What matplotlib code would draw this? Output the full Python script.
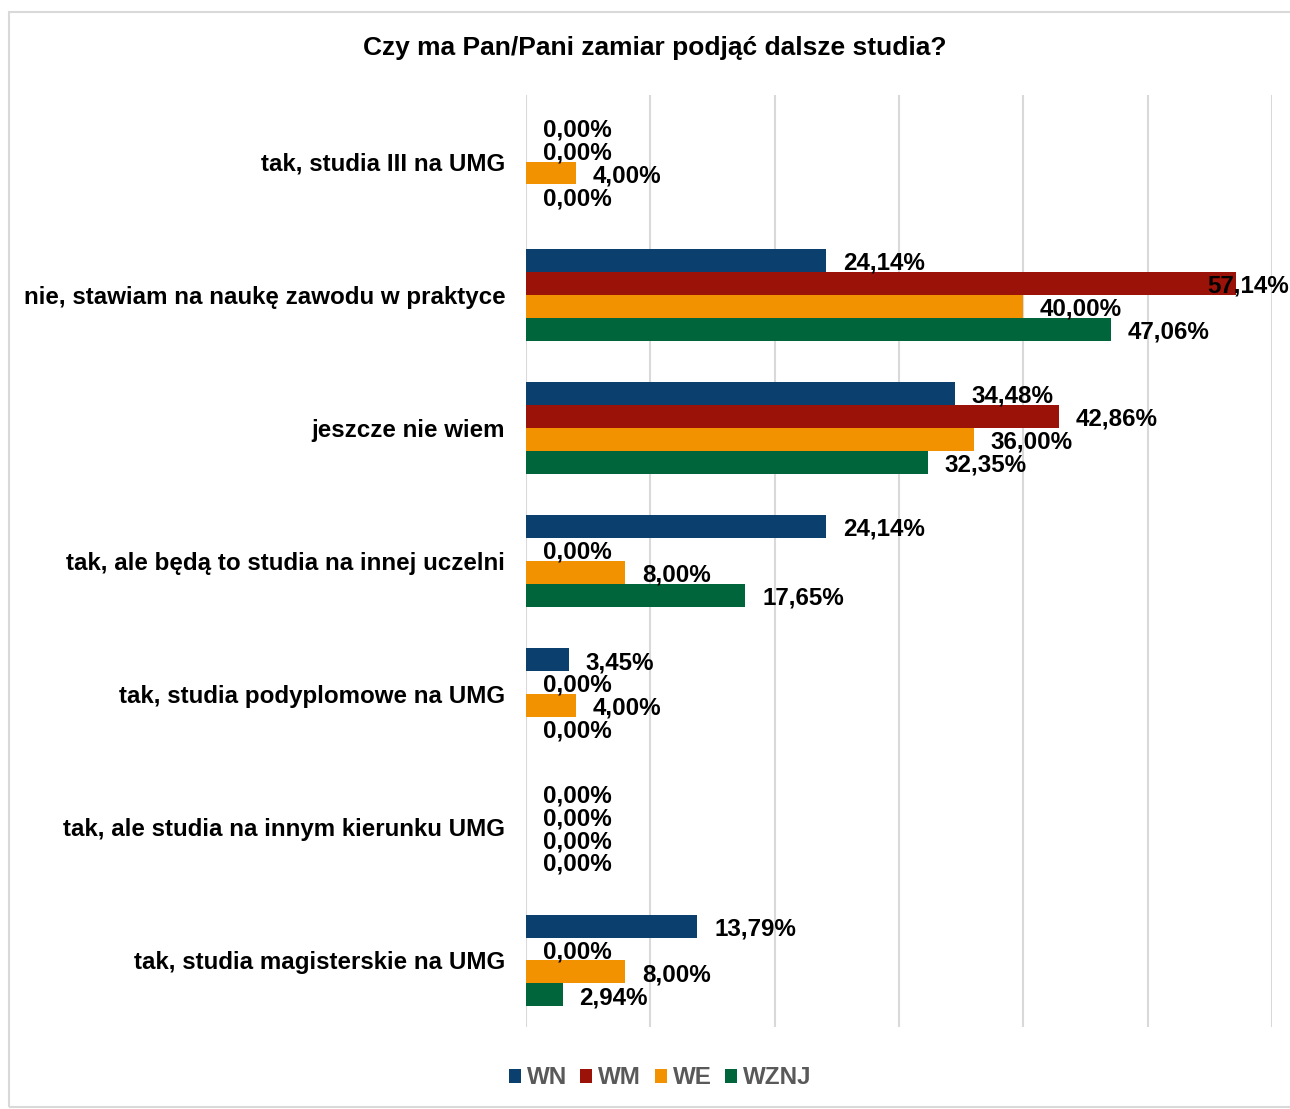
import matplotlib.pyplot as plt
import numpy as np
from matplotlib.patches import Rectangle

plt.rcParams['font.family'] = ['Liberation Sans', 'DejaVu Sans']

categories = [
    "tak, studia III na UMG",
    "nie, stawiam na naukę zawodu w praktyce",
    "jeszcze nie wiem",
    "tak, ale będą to studia na innej uczelni",
    "tak, studia podyplomowe na UMG",
    "tak, ale studia na innym kierunku UMG",
    "tak, studia magisterskie na UMG",
]
series = ["WN", "WM", "WE", "WZNJ"]
wn = [0.00, 24.14, 34.48, 24.14, 3.45, 0.00, 13.79]
wm = [0.00, 57.14, 42.86, 0.00, 0.00, 0.00, 0.00]
we = [4.00, 40.00, 36.00, 8.00, 4.00, 0.00, 8.00]
wznj = [0.00, 47.06, 32.35, 17.65, 0.00, 0.00, 2.94]
values = [wn, wm, we, wznj]
colors = ["#0B3F6E", "#9B1209", "#F39200", "#00653A"]

fs = 17.4

fig = plt.figure(figsize=(12.9, 11.09), dpi=100)
ax = fig.add_axes([526 / 1290, 1 - 1027 / 1109, (1272 - 526) / 1290, (1027 - 95) / 1109])

h = 0.172
y = np.arange(len(categories))
for k, (name, vals, c) in enumerate(zip(series, values, colors)):
    pos = y + (k - 1.5) * h
    ax.barh(pos, vals, height=h, color=c, label=name, zorder=2)
    for p, v in zip(pos, vals):
        txt = f"{v:.2f}".replace(".", ",") + "%"
        if v > 55:
            # label pushed back inside the chart area, as Excel does
            ax.annotate(txt, xy=(1.0, p), xycoords=('axes fraction', 'data'),
                        xytext=(12, -2), textcoords='offset points', ha='right', va='center',
                        fontsize=fs, fontweight='bold', annotation_clip=False, zorder=3)
        else:
            ax.annotate(txt, xy=(v, p), xytext=(12, -2), textcoords='offset points',
                        ha='left', va='center', fontsize=fs, fontweight='bold', zorder=3)

ax.set_xlim(0, 60)
ax.set_ylim(len(categories) - 0.5, -0.5)
ax.set_xticks(np.arange(0, 61, 10))
ax.set_xticklabels([])
ax.tick_params(axis='x', length=0)
ax.tick_params(axis='y', length=0, pad=15)
ax.set_yticks(y)
ax.set_yticklabels(categories, fontsize=fs, fontweight='bold')
ax.grid(axis='x', color='#D9D9D9', linewidth=1.5, zorder=0)
for s in ax.spines.values():
    s.set_visible(False)

fig.text(655 / 1290, 1 - 48 / 1109, "Czy ma Pan/Pani zamiar podjąć dalsze studia?",
         ha='center', va='center', fontsize=19, fontweight='bold')

leg = fig.legend(loc='center', bbox_to_anchor=(660 / 1290, 1 - 1078 / 1109), ncol=4,
                 frameon=False, fontsize=fs, handlelength=0.5, handleheight=0.5,
                 handletextpad=0.25, columnspacing=0.55)
for t in leg.get_texts():
    t.set_color('#595959')
    t.set_fontweight('bold')

fig.patches.append(Rectangle((9 / 1290, 1 - 1107 / 1109), 1.0, 1 - 12 / 1109 - (1 - 1107 / 1109),
                             transform=fig.transFigure, fill=False, edgecolor='#D9D9D9',
                             linewidth=1.5, clip_on=False))

fig.savefig("out.png", dpi=100)
